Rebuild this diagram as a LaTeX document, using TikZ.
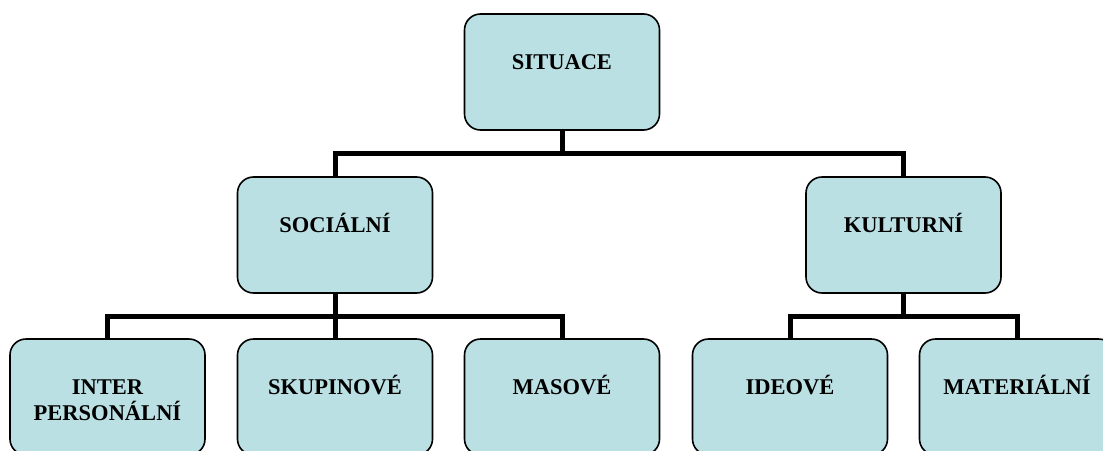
\documentclass[tikz,border=0pt]{standalone}
\usepackage{fontspec}
\setmainfont{Liberation Serif}
\definecolor{boxfill}{RGB}{186,224,227}
\begin{document}
\begin{tikzpicture}[x=1pt,y=-1pt,
  box/.style={draw=black, line width=1.6pt, fill=boxfill, rounded corners=16pt,
    minimum width=195pt, minimum height=116pt, inner sep=0pt, outer sep=0pt},
  lbl/.style={font=\bfseries\fontsize{22.5}{26}\selectfont, inner sep=0pt, anchor=base, align=center},
  conn/.style={line width=5pt, line join=miter}]
\useasboundingbox (0,0) rectangle (1103,450);
\clip (0,0) rectangle (1103,450);
% boxes
\node[box] (sit) at (562,72) {};
\node[box] (soc) at (335,235) {};
\node[box] (kul) at (903.5,235) {};
\node[box] (inter) at (107.5,397) {};
\node[box] (skup) at (335,397) {};
\node[box] (mas) at (562,397) {};
\node[box] (ide) at (790,397) {};
\node[box] (mat) at (1017,397) {};
% labels
\node[lbl] (tsit) at ([yshift=-55pt]sit.north) {SITUACE};
\node[lbl] (tsoc) at ([yshift=-55pt]soc.north) {SOCIÁLNÍ};
\node[lbl] (tkul) at ([yshift=-55pt]kul.north) {KULTURNÍ};
\node[lbl] (tinter) at ([yshift=-81pt]inter.north) {INTER\\PERSONÁLNÍ};
\node[lbl] (tskup) at ([yshift=-55pt]skup.north) {SKUPINOVÉ};
\node[lbl] (tmas) at ([yshift=-55pt]mas.north) {MASOVÉ};
\node[lbl] (tide) at ([yshift=-55pt]ide.north) {IDEOVÉ};
\node[lbl] (tmat) at ([yshift=-55pt]mat.north) {MATERIÁLNÍ};
% junctions
\coordinate (j1) at (562,153);
\coordinate (j2) at (335,316);
\coordinate (j3) at (903.5,316);
% connectors
\draw[conn] (sit.south) -- (j1);
\draw[conn] (soc.north) |- (j1) -| (kul.north);
\draw[conn] (soc.south) -- (j2);
\draw[conn] (inter.north) |- (j2) -| (mas.north);
\draw[conn] (j2) -- (skup.north);
\draw[conn] (kul.south) -- (j3);
\draw[conn] (ide.north) |- (j3) -| (mat.north);
\end{tikzpicture}
\end{document}
